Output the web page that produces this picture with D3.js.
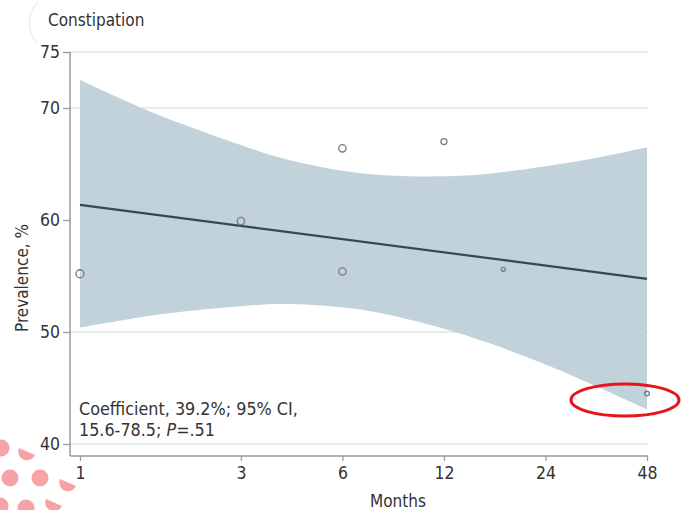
<!DOCTYPE html>
<html>
<head>
<meta charset="utf-8">
<script src="https://cdn.jsdelivr.net/npm/d3@7"></script>
<style>
body { margin: 0; background: #fff; }
text { font-family: "DejaVu Sans Condensed", "DejaVu Sans", sans-serif; fill: #333; }
</style>
</head>
<body>
<script>
'use strict';
// observed prevalence by follow-up month
let months = [1, 3, 6, 6, 12, 18, 48];
let prevalence = [55.2, 59.9, 66.4, 55.4, 67.0, 55.6, 44.5];
let sampleSize = [160, 135, 135, 135, 90, 40, 55];

// fitted line and 95% CI band
let fitMonths = [1, 48];
let fitValues = [61.35, 54.75];
let bandMonths = [1, 1.5, 2, 3, 4, 6, 8, 12, 16, 24, 32, 48];
let bandUpper = [72.5, 70.1, 68.6, 66.7, 65.5, 64.4, 64.0, 63.9, 64.1, 64.8, 65.4, 66.5];
let bandLower = [50.4, 51.3, 51.8, 52.3, 52.5, 52.2, 51.6, 50.3, 49.1, 47.1, 45.5, 43.1];

let xTicks = [1, 3, 6, 12, 24, 48];
let yTicks = [40, 50, 60, 70, 75];
let gridTicks = [40, 50, 70, 75];

let width = 681, height = 510;
let axisY = 456, axisLeft = 70, axisRight = 648;
let font = '"DejaVu Sans Condensed", "DejaVu Sans", sans-serif';

let svg = d3.select('body').append('svg').attr('width', width).attr('height', height);

let x = d3.scaleLog().base(2).domain([1, 48]).range([80, 647]);
let y = d3.scaleLinear().domain([40, 75]).range([444, 52]);
let r = d3.scaleSqrt().domain([0, 160]).range([0, 4]);

// grid
svg.append('g').selectAll('line').data(gridTicks).join('line')
	.attr('x1', axisLeft).attr('x2', axisRight)
	.attr('y1', d => y(d)).attr('y2', d => y(d))
	.attr('stroke', '#e2e2e2').attr('stroke-width', 1.5);

// CI band
let band = bandMonths.map((m, i) => ({m: m, lo: bandLower[i], hi: bandUpper[i]}));
let area = d3.area()
	.x(d => x(d.m))
	.y0(d => y(d.lo))
	.y1(d => y(d.hi))
	.curve(d3.curveCatmullRom);
svg.append('path').attr('d', area(band)).attr('fill', '#c2d2db');

// fitted line
let line = d3.line().x(d => x(d[0])).y(d => y(d[1]));
svg.append('path')
	.attr('d', line(fitMonths.map((m, i) => [m, fitValues[i]])))
	.attr('stroke', '#2f4b56').attr('stroke-width', 2.2).attr('fill', 'none');

// points
svg.append('g').selectAll('circle').data(months).join('circle')
	.attr('cx', d => x(d))
	.attr('cy', (d, i) => y(prevalence[i]))
	.attr('r', (d, i) => r(sampleSize[i]))
	.attr('fill', 'none').attr('stroke', '#7a7a7a').attr('stroke-width', 1.3);

// axes
let xAxis = d3.axisBottom(x).tickValues(xTicks).tickFormat(d3.format('d')).tickSize(5).tickPadding(6);
let gx = svg.append('g').attr('transform', 'translate(0,' + axisY + ')').call(xAxis);
gx.select('.domain').remove();
gx.append('line').attr('x1', axisLeft).attr('x2', axisRight).attr('stroke', '#9a9a9a').attr('stroke-width', 1.5);
gx.selectAll('.tick line').attr('stroke', '#9a9a9a').attr('stroke-width', 1.3);
gx.selectAll('.tick text').attr('font-size', 17.5).attr('fill', '#333');

let yAxis = d3.axisLeft(y).tickValues(yTicks).tickSize(7).tickPadding(3);
let gy = svg.append('g').attr('transform', 'translate(' + axisLeft + ',0)').call(yAxis);
gy.select('.domain').remove();
gy.append('line').attr('y1', y(75)).attr('y2', axisY).attr('stroke', '#9a9a9a').attr('stroke-width', 1.5);
gy.selectAll('.tick line').attr('stroke', '#9a9a9a').attr('stroke-width', 1.3);
gy.selectAll('.tick text').attr('font-size', 17.5).attr('fill', '#333');
svg.selectAll('.tick text').attr('font-family', font);

// labels
svg.append('text').attr('x', 48).attr('y', 26).attr('font-size', 17).text('Constipation');
svg.append('text').attr('transform', 'translate(28,278) rotate(-90)')
	.attr('text-anchor', 'middle').attr('font-size', 17).text('Prevalence, %');
svg.append('text').attr('x', 398).attr('y', 507).attr('text-anchor', 'middle').attr('font-size', 17).text('Months');

let note = svg.append('text').attr('x', 79).attr('font-size', 17.8);
note.append('tspan').attr('x', 79).attr('y', 415).text('Coefficient, 39.2%; 95% CI,');
note.append('tspan').attr('x', 79).attr('y', 436).text('15.6-78.5; ');
note.append('tspan').attr('font-style', 'italic').text('P');
note.append('tspan').text('=.51');

// red highlight ellipse
svg.append('ellipse').attr('cx', 625).attr('cy', 400).attr('rx', 54).attr('ry', 16)
	.attr('fill', 'none').attr('stroke', '#e8141b').attr('stroke-width', 3);

// logo fragments
let dots = [[1, 448], [10, 478], [40, 478], [0, 506], [26, 508]];
svg.append('g').selectAll('circle').data(dots).join('circle')
	.attr('cx', d => d[0]).attr('cy', d => d[1]).attr('r', 8.5).attr('fill', '#f5a3a6');
let segs = [[27, 452], [68, 483], [54, 503]];
svg.append('g').selectAll('path').data(segs).join('path')
	.attr('d', d => 'M' + (d[0] - 8) + ',' + (d[1] - 4) + ' A8.5,8.5 0 0,0 ' + (d[0] + 8) + ',' + (d[1] + 3) + 'Z')
	.attr('fill', '#f5a3a6');
svg.append('path').attr('d', 'M38,2 A30,30 0 0,0 36,42').attr('fill', 'none').attr('stroke', '#eeeeee').attr('stroke-width', 1.5);
</script>
</body>
</html>
